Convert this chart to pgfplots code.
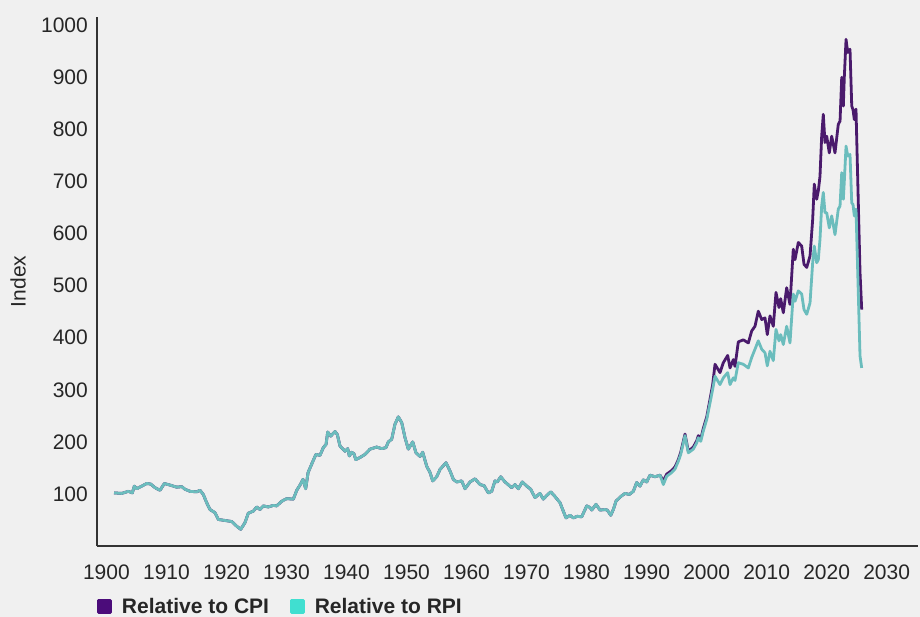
\documentclass[border=0pt]{standalone}
\usepackage{pgfplots}
\pgfplotsset{compat=1.18}
\usepackage{pgfplotstable}
\usepackage{fontspec}
\setmainfont{Liberation Sans}
\definecolor{bg}{HTML}{F0F0F0}
\definecolor{cpiline}{HTML}{4A1A6C}
\definecolor{rpiline}{HTML}{6BBDBD}
\definecolor{cpileg}{HTML}{4B0C7A}
\definecolor{rpileg}{HTML}{40DFD0}
\definecolor{txt}{HTML}{262626}
\definecolor{axl}{HTML}{333333}
\pgfplotstableread{
year cpi rpi
1901.27 102 102
1902.55 101 101
1903.65 105 105
1904.32 102 102
1904.65 115 115
1905.05 110 110
1905.88 115 115
1906.71 120 120
1907.38 119 119
1908.10 112 112
1908.93 107 107
1909.65 120 120
1910.60 117 117
1911.71 113 113
1912.55 114 114
1913.10 109 109
1913.93 105 105
1915.04 104 104
1915.59 107 107
1916.14 99 99
1916.71 83 83
1917.26 70 70
1918.09 64 64
1918.64 51 51
1919.76 49 49
1920.88 47 47
1921.71 38 38
1922.38 32 32
1923.09 45 45
1923.64 63 63
1924.48 67 67
1925.04 75 75
1925.59 70 70
1926.14 77 77
1926.97 75 75
1927.81 78 78
1928.37 77 77
1929.21 86 86
1930.04 91 91
1931.14 90 90
1931.71 107 107
1932.30 118 118
1932.75 128 128
1933.20 110 110
1933.60 141 141
1934.30 160 160
1934.91 176 176
1935.58 174 174
1936.14 189 189
1936.59 195 195
1936.87 219 219
1937.37 211 211
1938.09 220 220
1938.47 214 214
1938.92 192 192
1939.75 182 182
1940.20 187 187
1940.47 173 173
1940.87 180 180
1941.25 177 177
1941.54 166 166
1942.25 170 170
1943.09 176 176
1943.92 186 186
1945.03 190 190
1945.87 187 187
1946.58 189 189
1946.97 200 200
1947.53 205 205
1948.08 234 234
1948.63 248 248
1949.20 237 237
1949.75 208 208
1950.30 186 186
1951.03 200 200
1951.58 179 179
1952.25 172 172
1952.70 180 180
1953.37 153 153
1953.92 141 141
1954.36 125 125
1955.03 133 133
1955.58 147 147
1956.58 160 160
1957.25 144 144
1957.80 128 128
1958.36 123 123
1959.20 125 125
1959.75 110 110
1960.58 123 123
1961.41 129 129
1962.25 118 118
1962.91 116 116
1963.63 102 102
1964.19 105 105
1964.74 125 125
1965.13 123 123
1965.69 133 133
1966.41 123 123
1967.53 112 112
1968.08 118 118
1968.63 110 110
1969.29 123 123
1970.03 115 115
1970.69 109 109
1971.41 93 93
1972.24 101 101
1972.79 90 90
1973.36 97 97
1974.03 104 104
1974.74 95 95
1975.58 83 83
1976.12 67 67
1976.57 54 54
1977.24 59 59
1977.79 54 54
1978.46 57 57
1979.19 56 56
1980.02 77 77
1980.57 74 74
1980.86 69 69
1981.57 80 80
1982.24 69 69
1983.07 70 70
1983.45 69 69
1984.02 59 59
1984.46 70 70
1984.90 86 86
1985.69 95 95
1986.40 101 101
1987.12 99 99
1987.79 105 105
1988.35 122 122
1988.90 115 115
1989.45 127 127
1990.02 123 123
1990.57 136 136
1991.40 133 133
1992.24 136 136
1992.79 125 118
1993.35 138 134
1994.18 145 141
1994.74 152 148
1995.29 166 163
1995.69 180 176
1996.40 215 212
1996.95 182 179
1997.78 190 186
1998.35 202 198
1998.62 212 208
1999.02 205 201
1999.45 226 221
2000.02 248 243
2000.57 282 275
2001.01 310 301
2001.40 349 326
2002.23 333 310
2002.78 352 323
2003.51 366 333
2003.90 342 310
2004.45 358 323
2004.73 345 318
2005.28 392 352
2006.11 396 349
2006.95 390 342
2007.51 413 362
2008.06 422 378
2008.61 451 394
2009.18 435 378
2009.73 438 371
2010.11 406 346
2010.56 442 374
2011.11 422 356
2011.56 487 416
2012.06 458 394
2012.34 475 406
2012.78 448 387
2013.34 496 422
2013.89 464 390
2014.44 570 484
2014.73 550 470
2015.28 583 490
2015.84 576 484
2016.23 541 454
2016.68 535 445
2017.23 557 467
2017.67 627 544
2017.94 695 576
2018.34 666 544
2018.61 682 550
2018.89 710 589
2019.17 787 653
2019.44 829 679
2019.72 775 640
2020.01 787 640
2020.44 755 611
2020.84 787 634
2021.39 755 598
2021.94 810 647
2022.23 816 653
2022.51 900 717
2022.78 845 666
2022.94 900 700
2023.23 973 768
2023.51 948 749
2023.89 954 752
2024.18 845 659
2024.39 838 656
2024.61 819 634
2024.89 839 647
2025.56 525 365
2025.84 454 342
}\data
\begin{document}
\begin{tikzpicture}
\path[use as bounding box, fill=bg] (-97bp,-71bp) rectangle (823bp,546bp);
\begin{axis}[
  at={(0,0)}, anchor=south west,
  scale only axis, width=821bp, height=529bp,
  xmin=1898.43, xmax=2035.22, ymin=0, ymax=1016,
  axis x line=bottom, axis y line=left,
  axis line style={-, draw=axl, line width=1.3bp},
  xtick={1900,1910,...,2030}, ytick={100,200,...,1000},
  major tick length=0pt,
  /pgf/number format/1000 sep={},
  /pgf/number format/assume math mode=true,
  tick label style={font=\fontsize{21bp}{25bp}\selectfont, text=txt, inner sep=0pt},
  xticklabel style={anchor=north, yshift=-19bp},
  yticklabel style={anchor=east, xshift=-9bp},
  ylabel={Index},
  every axis y label/.style={at={(axis description cs:-0.0962,0.5)}, rotate=90, anchor=center, font=\fontsize{21bp}{25bp}\selectfont, text=txt},
  legend columns=2,
  legend style={at={(axis description cs:0,0)}, anchor=north west, yshift=-50bp, draw=none, fill=none, inner sep=0pt,
    font=\bfseries\fontsize{21bp}{25bp}\selectfont, text=txt,
    /tikz/every odd column/.append style={column sep=8bp},
    /tikz/every even column/.append style={column sep=19bp}},
]
\addplot[cpiline, line width=2.8bp, line join=round,
  legend image code/.code={\fill[cpileg] (0bp,-6bp) rectangle (12bp,6bp);}]
  table[x=year, y=cpi]{\data};
\addlegendentry{Relative to CPI}
\addplot[rpiline, line width=2.8bp, line join=round,
  legend image code/.code={\fill[rpileg] (0bp,-6bp) rectangle (12bp,6bp);}]
  table[x=year, y=rpi]{\data};
\addlegendentry{Relative to RPI}
\end{axis}
\end{tikzpicture}
\end{document}
